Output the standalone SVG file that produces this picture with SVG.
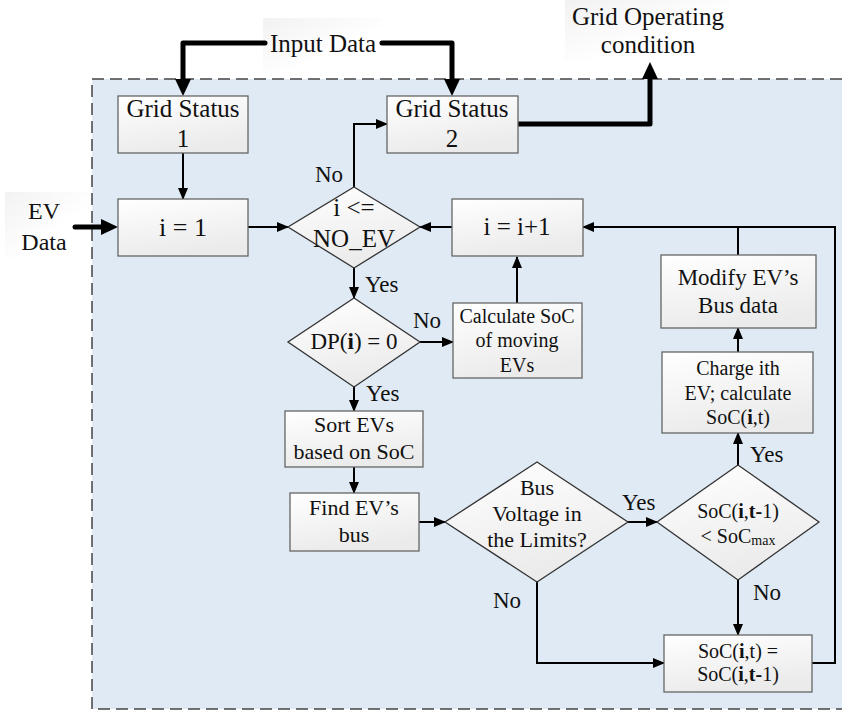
<svg xmlns="http://www.w3.org/2000/svg" width="842" height="710" viewBox="0 0 842 710">
<defs>
<linearGradient id="g" x1="0" y1="0" x2="0.3" y2="1"><stop offset="0" stop-color="#ffffff"/><stop offset="1" stop-color="#ebebeb"/></linearGradient>
<linearGradient id="lg" x1="0" y1="0" x2="1" y2="1"><stop offset="0" stop-color="#f2f2f2"/><stop offset="0.6" stop-color="#ffffff"/><stop offset="1" stop-color="#ffffff" stop-opacity="0"/></linearGradient>
<marker id="a" markerUnits="userSpaceOnUse" markerWidth="12" markerHeight="10" refX="11" refY="5" orient="auto"><path d="M0,0 L12,5 L0,10 z" fill="#000"/></marker>
<marker id="b" markerUnits="userSpaceOnUse" markerWidth="17" markerHeight="16" refX="1" refY="8" orient="auto"><path d="M0,0 L17,8 L0,16 z" fill="#000"/></marker>
<style>
text{font-family:"Liberation Serif","Times New Roman",serif;fill:#111;text-anchor:middle}
.bx{fill:url(#g);stroke:#666;stroke-width:1.3}
.dm{fill:url(#g);stroke:#333;stroke-width:1.3}
.ln{fill:none;stroke:#000;stroke-width:2}
.th{fill:none;stroke:#000;stroke-width:5;stroke-linejoin:round;stroke-linecap:round}
.lbl{font-size:23px;text-anchor:start}
.t25{font-size:25px}.t24{font-size:24px}.t22{font-size:22px}.t20{font-size:20px}
</style>
</defs>
<g id="region">
<rect x="92" y="79" width="750" height="630" fill="#e0eaf4"/>
<path d="M842,79 H92 V709 H842" fill="none" stroke="#444" stroke-width="1.5" stroke-dasharray="12 6"/>
</g>
<g id="labels">
<rect x="263" y="18" width="120" height="55" fill="url(#lg)"/>
<text class="t25" x="323" y="52">Input Data</text>
<rect x="565" y="0" width="165" height="61" fill="url(#lg)"/>
<text class="t25" x="648" y="25">Grid Operating</text>
<text class="t25" x="648" y="53">condition</text>
<rect x="5" y="192" width="85" height="66" fill="url(#lg)"/>
<text class="t24" x="44" y="219">EV</text>
<text class="t24" x="44" y="250">Data</text>
</g>
<g id="connectors">
<path class="th" d="M265,43 H183 V80" marker-end="url(#b)"/>
<path class="th" d="M382,43 H452 V80" marker-end="url(#b)"/>
<path class="th" d="M518,124 H650 V78" marker-end="url(#b)"/>
<path class="th" d="M75,227 H102" marker-end="url(#b)"/>
<path class="ln" d="M183,153 V199" marker-end="url(#a)"/>
<path class="ln" d="M248,227 H288" marker-end="url(#a)"/>
<path class="ln" d="M354,187 V124 H387" marker-end="url(#a)"/>
<path class="ln" d="M354,268 V298" marker-end="url(#a)"/>
<path class="ln" d="M420,342 H453" marker-end="url(#a)"/>
<path class="ln" d="M517,303 V257" marker-end="url(#a)"/>
<path class="ln" d="M452,227 H420" marker-end="url(#a)"/>
<path class="ln" d="M354,387 V411" marker-end="url(#a)"/>
<path class="ln" d="M354,467 V493" marker-end="url(#a)"/>
<path class="ln" d="M419,522 H445" marker-end="url(#a)"/>
<path class="ln" d="M628,522 H657" marker-end="url(#a)"/>
<path class="ln" d="M738,465 V433" marker-end="url(#a)"/>
<path class="ln" d="M738,352 V328" marker-end="url(#a)"/>
<path class="ln" d="M738,255 V227"/>
<path class="ln" d="M812,663 H835 V227 H583" marker-end="url(#a)"/>
<path class="ln" d="M738,580 V635" marker-end="url(#a)"/>
<path class="ln" d="M537,582 V663 H664" marker-end="url(#a)"/>
<text class="lbl" x="315" y="182">No</text>
<text class="lbl" x="365" y="292">Yes</text>
<text class="lbl" x="413" y="328">No</text>
<text class="lbl" x="366" y="401">Yes</text>
<text class="lbl" x="493" y="608">No</text>
<text class="lbl" x="622" y="510">Yes</text>
<text class="lbl" x="750" y="462">Yes</text>
<text class="lbl" x="753" y="600">No</text>
</g>
<g id="gs1"><rect class="bx" x="118" y="96" width="130" height="57"/><text class="t25" x="183" y="117">Grid Status</text><text class="t25" x="183" y="147">1</text></g>
<g id="gs2"><rect class="bx" x="387" y="96" width="131" height="57"/><text class="t25" x="452" y="117">Grid Status</text><text class="t25" x="452" y="147">2</text></g>
<g id="init"><rect class="bx" x="118" y="199" width="130" height="57"/><text x="183" y="236" style="font-size:26px">i = 1</text></g>
<g id="d1"><path class="dm" d="M354,187 L420,227 L354,268 L288,227 Z"/><text x="354" y="216" style="font-size:25px">i &lt;=</text><text x="354" y="247" style="font-size:25px">NO_EV</text></g>
<g id="inc"><rect class="bx" x="452" y="199" width="131" height="57"/><text x="517" y="235" style="font-size:25px">i = i+1</text></g>
<g id="dp"><path class="dm" d="M354,298 L420,342 L354,387 L288,342 Z"/><text x="354" y="349" style="font-size:23px">DP(<tspan font-weight="bold">i</tspan>) = 0</text></g>
<g id="calc"><rect class="bx" x="453" y="303" width="129" height="75"/><text class="t20" x="517" y="323">Calculate SoC</text><text class="t20" x="517" y="347">of moving</text><text class="t20" x="517" y="372">EVs</text></g>
<g id="modify"><rect class="bx" x="661" y="255" width="155" height="73"/><text x="738" y="285" style="font-size:23px">Modify EV’s</text><text x="738" y="313" style="font-size:23px">Bus data</text></g>
<g id="charge"><rect class="bx" x="662" y="352" width="151" height="81"/><text class="t20" x="738" y="375">Charge ith</text><text class="t20" x="738" y="400">EV; calculate</text><text class="t20" x="738" y="424">SoC(<tspan font-weight="bold">i</tspan>,t)</text></g>
<g id="sort"><rect class="bx" x="285" y="411" width="138" height="56"/><text class="t22" x="354" y="432">Sort EVs</text><text class="t22" x="354" y="459">based on SoC</text></g>
<g id="find"><rect class="bx" x="290" y="493" width="129" height="58"/><text class="t22" x="354" y="515">Find EV’s</text><text class="t22" x="354" y="542">bus</text></g>
<g id="bus"><path class="dm" d="M537,462 L628,522 L537,582 L445,522 Z"/><text class="t22" x="537" y="495">Bus</text><text class="t22" x="537" y="521">Voltage in</text><text class="t22" x="537" y="547">the Limits?</text></g>
<g id="socd"><path class="dm" d="M738,465 L819,522 L738,580 L657,522 Z"/><text class="t20" x="738" y="518">SoC(<tspan font-weight="bold">i</tspan>,<tspan font-weight="bold">t-</tspan>1)</text><text class="t20" x="738" y="543">&lt; SoC<tspan font-size="14" dy="2">max</tspan></text></g>
<g id="socb"><rect class="bx" x="664" y="635" width="148" height="57"/><text class="t20" x="738" y="658">SoC(<tspan font-weight="bold">i</tspan>,t) =</text><text class="t20" x="738" y="681">SoC(<tspan font-weight="bold">i</tspan>,<tspan font-weight="bold">t-</tspan>1)</text></g>
</svg>
